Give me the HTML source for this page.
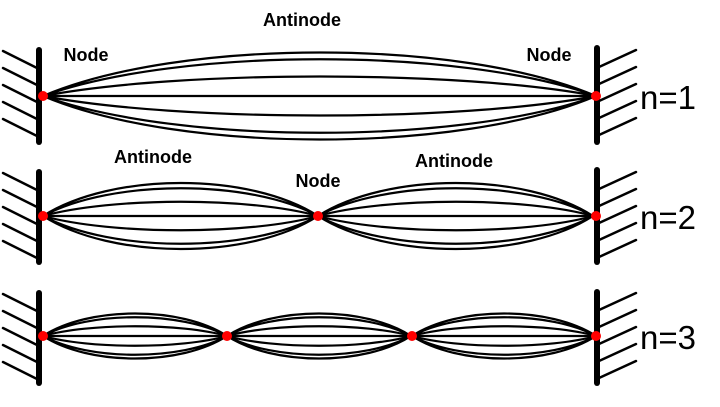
<!DOCTYPE html>
<html><head><style>body{margin:0;background:#fff}svg{display:block}</style></head><body>
<svg width="720" height="407" viewBox="0 0 720 407" xmlns="http://www.w3.org/2000/svg">
<g stroke="#000" fill="none" stroke-linecap="round">
<g stroke-width="6">
<line x1="39" y1="50" x2="39" y2="142"/><line x1="597" y1="48" x2="597" y2="142"/>
<line x1="39" y1="172" x2="39" y2="262"/><line x1="597" y1="170" x2="597" y2="262"/>
<line x1="39" y1="293" x2="39" y2="383"/><line x1="597" y1="292" x2="597" y2="383"/>
</g>
<g stroke-width="2.5">
<path d="M3,51 L37,68 M3,68 L37,85 M3,85 L37,102 M3,102 L37,119 M3,119 L37,136"/>
<path d="M3,173 L37,190 M3,190 L37,207 M3,207 L37,224 M3,224 L37,241 M3,241 L37,258"/>
<path d="M3,294 L37,311 M3,311 L37,328 M3,328 L37,345 M3,345 L37,362 M3,362 L37,379"/>
<path d="M599,67 L636,50 M599,84 L636,67 M599,101 L636,84 M599,118 L636,101 M599,135 L636,118"/>
<path d="M599,189 L636,172 M599,206 L636,189 M599,223 L636,206 M599,240 L636,223 M599,257 L636,240"/>
<path d="M599,310 L636,293 M599,327 L636,310 M599,344 L636,327 M599,361 L636,344 M599,378 L636,361"/>
</g>
</g>
<g stroke="#000" fill="none" stroke-width="2.2">
<path d="M43,96 C180,38 460,38 596,96 M43,96 C180,47 460,47 596,96 M43,96 C180,70 460,70 596,96 M43,96 L596,96 M43,96 C180,122 460,122 596,96 M43,96 C180,145 460,145 596,96 M43,96 C180,154 460,154 596,96"/>
<path id="l2" d="M43,216 C112,172 250,172 318,216 M43,216 C112,179 250,179 318,216 M43,216 C112,197 250,197 318,216 M43,216 C112,235 250,235 318,216 M43,216 C112,253 250,253 318,216 M43,216 C112,260 250,260 318,216"/>
<use href="#l2" transform="translate(275,0)"/>
<path d="M43,216 L596,216 M43,336 L596,336"/>
<path id="l3" d="M43,336 C89,306 181,306 227,336 M43,336 C89,311 181,311 227,336 M43,336 C89,323 181,323 227,336 M43,336 C89,349 181,349 227,336 M43,336 C89,361 181,361 227,336 M43,336 C89,366 181,366 227,336"/>
<use href="#l3" transform="translate(184,0)"/>
<use href="#l3" transform="translate(369,0)"/>
</g>
<g fill="#f00">
<circle cx="43" cy="96" r="5"/><circle cx="596" cy="96" r="5"/>
<circle cx="43" cy="216" r="5"/><circle cx="318" cy="216" r="5"/><circle cx="596" cy="216" r="5"/>
<circle cx="43" cy="336" r="5"/><circle cx="227" cy="336" r="5"/><circle cx="412" cy="336" r="5"/><circle cx="596" cy="336" r="5"/>
</g>
<g font-family="Liberation Sans, sans-serif" font-weight="bold" font-size="18" text-anchor="middle" fill="#000">
<text x="302" y="26">Antinode</text>
<text x="86" y="61">Node</text>
<text x="549" y="61">Node</text>
<text x="153" y="163">Antinode</text>
<text x="318" y="187">Node</text>
<text x="454" y="167">Antinode</text>
</g>
<g font-family="Liberation Sans, sans-serif" font-size="33" fill="#000">
<text x="640" y="109">n=1</text>
<text x="640" y="229">n=2</text>
<text x="640" y="349">n=3</text>
</g>
</svg>
</body></html>
